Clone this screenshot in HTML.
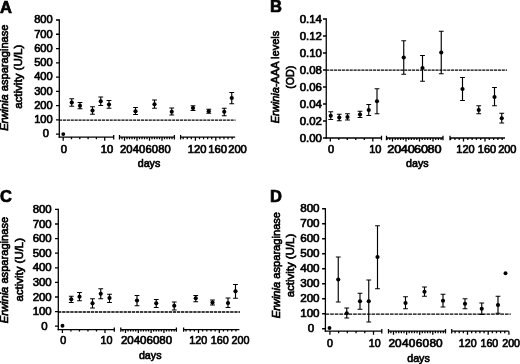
<!DOCTYPE html>
<html><head><meta charset="utf-8"><title>Figure</title>
<style>
html,body{margin:0;padding:0;background:#fff;}
body{width:520px;height:364px;overflow:hidden;}
svg{display:block;will-change:transform;}
svg text{font-family:"Liberation Sans", sans-serif;fill:#000;}
</style></head>
<body>
<svg width="520" height="364" viewBox="0 0 520 364">
<rect width="520" height="364" fill="#fff"/>
<text transform="translate(-0.1 12.7)" font-size="16.5" text-anchor="start" stroke="#000" stroke-width="0.7" font-weight="bold">A</text>
<path d="M59.3 19.36V137.84" stroke="#000" stroke-width="1.28" fill="none"/>
<text transform="translate(52.7 23.39) scale(1.05 1)" font-size="10.6" text-anchor="end" stroke="#000" stroke-width="0.65">800</text>
<text transform="translate(52.7 37.65) scale(1.05 1)" font-size="10.6" text-anchor="end" stroke="#000" stroke-width="0.65">700</text>
<text transform="translate(52.7 51.91) scale(1.05 1)" font-size="10.6" text-anchor="end" stroke="#000" stroke-width="0.65">600</text>
<text transform="translate(52.7 66.17) scale(1.05 1)" font-size="10.6" text-anchor="end" stroke="#000" stroke-width="0.65">500</text>
<text transform="translate(52.7 80.43) scale(1.05 1)" font-size="10.6" text-anchor="end" stroke="#000" stroke-width="0.65">400</text>
<text transform="translate(52.7 94.69) scale(1.05 1)" font-size="10.6" text-anchor="end" stroke="#000" stroke-width="0.65">300</text>
<text transform="translate(52.7 108.95) scale(1.05 1)" font-size="10.6" text-anchor="end" stroke="#000" stroke-width="0.65">200</text>
<text transform="translate(52.7 123.21) scale(1.05 1)" font-size="10.6" text-anchor="end" stroke="#000" stroke-width="0.65">100</text>
<text transform="translate(49 137.47) scale(1.05 1)" font-size="10.6" text-anchor="end" stroke="#000" stroke-width="0.65">0</text>
<path d="M56 20H59.3M56 34.26H59.3M56 48.52H59.3M56 62.78H59.3M56 77.04H59.3M56 91.3H59.3M56 105.56H59.3M56 119.82H59.3M56 134.08H59.3" stroke="#000" stroke-width="1.28" fill="none"/>
<text transform="translate(8.2 77.65) rotate(-90) scale(1.04 1)" font-size="10.7" text-anchor="middle" stroke="#000" stroke-width="0.65"><tspan font-style="italic">Erwinia</tspan> asparaginase</text>
<text transform="translate(22.3 76.8) rotate(-90) scale(1.08 1)" font-size="10.7" text-anchor="middle" stroke="#000" stroke-width="0.65">activity (U/L)</text>
<path d="M58.66 137.2H113.7M119.5 137.2H174.4M180.6 137.2H235.2M113.7 135V139.4M119.5 135V139.4M174.4 135V139.4M180.6 135V139.4M63.2 137.2V140.7M71.5 137.2V139.2M79.8 137.2V139.2M88.1 137.2V139.2M96.4 137.2V139.2M104.7 137.2V140.7M122 137.2V139.2M124.5 137.2V140.7M127 137.2V139.2M129.5 137.2V139.2M132 137.2V139.2M134.5 137.2V139.2M137 137.2V140.7M139.5 137.2V139.2M142 137.2V139.2M144.5 137.2V139.2M147 137.2V139.2M149.5 137.2V140.7M152 137.2V139.2M154.5 137.2V139.2M157 137.2V139.2M159.5 137.2V139.2M162 137.2V140.7M164.5 137.2V139.2M167 137.2V139.2M169.5 137.2V139.2M172 137.2V139.2M183.16 137.2V139.2M187.24 137.2V139.2M191.32 137.2V139.2M195.4 137.2V140.7M199.48 137.2V139.2M203.56 137.2V139.2M207.64 137.2V139.2M211.72 137.2V139.2M215.8 137.2V140.7M219.88 137.2V139.2M223.96 137.2V139.2M228.04 137.2V139.2M232.12 137.2V139.2" stroke="#000" stroke-width="1.28" fill="none"/>
<text transform="translate(63.8 152.5) scale(1.06 1)" font-size="10.6" text-anchor="middle" stroke="#000" stroke-width="0.65">0</text>
<text transform="translate(107 152.5) scale(1.06 1)" font-size="10.6" text-anchor="middle" stroke="#000" stroke-width="0.65">10</text>
<text transform="translate(126.3 152.5) scale(1.06 1)" font-size="10.6" text-anchor="middle" stroke="#000" stroke-width="0.65">20</text>
<text transform="translate(139 152.5) scale(1.06 1)" font-size="10.6" text-anchor="middle" stroke="#000" stroke-width="0.65">40</text>
<text transform="translate(151.7 152.5) scale(1.06 1)" font-size="10.6" text-anchor="middle" stroke="#000" stroke-width="0.65">60</text>
<text transform="translate(164.4 152.5) scale(1.06 1)" font-size="10.6" text-anchor="middle" stroke="#000" stroke-width="0.65">80</text>
<text transform="translate(197.2 152.5) scale(1.06 1)" font-size="10.6" text-anchor="middle" stroke="#000" stroke-width="0.65">120</text>
<text transform="translate(217.6 152.5) scale(1.06 1)" font-size="10.6" text-anchor="middle" stroke="#000" stroke-width="0.65">160</text>
<text transform="translate(237.5 152.5) scale(1.06 1)" font-size="10.6" text-anchor="middle" stroke="#000" stroke-width="0.65">200</text>
<text transform="translate(149 166.8)" font-size="10.7" text-anchor="middle" stroke="#000" stroke-width="0.65">days</text>
<path d="M59 120.2H235.5" stroke="#000" stroke-width="1.3" stroke-dasharray="3.1 0.8" fill="none"/>
<circle cx="63.25" cy="134.1" r="1.95"/>
<circle cx="71.75" cy="102.5" r="2.1"/>
<circle cx="80" cy="105.75" r="2.1"/>
<circle cx="92.5" cy="110.5" r="2.1"/>
<circle cx="100.75" cy="101.25" r="2.1"/>
<circle cx="109" cy="104.5" r="2.1"/>
<circle cx="135.5" cy="111.25" r="2.1"/>
<circle cx="154.5" cy="104.25" r="2.1"/>
<circle cx="171.75" cy="111.75" r="2.1"/>
<circle cx="193" cy="108" r="2.1"/>
<circle cx="208.75" cy="111.25" r="2.1"/>
<circle cx="224.25" cy="111.75" r="2.1"/>
<circle cx="231.75" cy="98" r="2.1"/>
<path d="M71.75 98.75V106.25M69.35 98.75H74.15M69.35 106.25H74.15M80 102.5V108.75M77.6 102.5H82.4M77.6 108.75H82.4M92.5 106.75V114.25M90.1 106.75H94.9M90.1 114.25H94.9M100.75 97V105.5M98.35 97H103.15M98.35 105.5H103.15M109 100.5V108.25M106.6 100.5H111.4M106.6 108.25H111.4M135.5 107.5V114.5M133.1 107.5H137.9M133.1 114.5H137.9M154.5 100V108.25M152.1 100H156.9M152.1 108.25H156.9M171.75 108V115M169.35 108H174.15M169.35 115H174.15M193 105.75V110.5M190.6 105.75H195.4M190.6 110.5H195.4M208.75 109.25V113.25M206.35 109.25H211.15M206.35 113.25H211.15M224.25 108.25V115.75M221.85 108.25H226.65M221.85 115.75H226.65M231.75 92.5V103.75M229.35 92.5H234.15M229.35 103.75H234.15" stroke="#000" stroke-width="1.15" fill="none"/>
<text transform="translate(270 11.9)" font-size="16.5" text-anchor="start" stroke="#000" stroke-width="0.7" font-weight="bold">B</text>
<path d="M326.25 18.36V138.64" stroke="#000" stroke-width="1.28" fill="none"/>
<text transform="translate(321.95 22.89) scale(1.08 1)" font-size="10.6" text-anchor="end" stroke="#000" stroke-width="0.65">0.14</text>
<text transform="translate(321.95 39.89) scale(1.08 1)" font-size="10.6" text-anchor="end" stroke="#000" stroke-width="0.65">0.12</text>
<text transform="translate(321.95 56.89) scale(1.08 1)" font-size="10.6" text-anchor="end" stroke="#000" stroke-width="0.65">0.10</text>
<text transform="translate(321.95 73.89) scale(1.08 1)" font-size="10.6" text-anchor="end" stroke="#000" stroke-width="0.65">0.08</text>
<text transform="translate(321.95 90.89) scale(1.08 1)" font-size="10.6" text-anchor="end" stroke="#000" stroke-width="0.65">0.06</text>
<text transform="translate(321.95 107.89) scale(1.08 1)" font-size="10.6" text-anchor="end" stroke="#000" stroke-width="0.65">0.04</text>
<text transform="translate(321.95 124.89) scale(1.08 1)" font-size="10.6" text-anchor="end" stroke="#000" stroke-width="0.65">0.02</text>
<text transform="translate(321.95 141.89) scale(1.08 1)" font-size="10.6" text-anchor="end" stroke="#000" stroke-width="0.65">0.00</text>
<path d="M322.95 19H326.25M322.95 36H326.25M322.95 53H326.25M322.95 70H326.25M322.95 87H326.25M322.95 104H326.25M322.95 121H326.25M322.95 138H326.25" stroke="#000" stroke-width="1.28" fill="none"/>
<text transform="translate(278.8 77) rotate(-90) scale(1.03 1)" font-size="10.7" text-anchor="middle" stroke="#000" stroke-width="0.65"><tspan font-style="italic">Erwinia</tspan>-AAA levels</text>
<text transform="translate(293.5 77.2) rotate(-90)" font-size="10.7" text-anchor="middle" stroke="#000" stroke-width="0.65">(OD)</text>
<path d="M325.61 138H381.5M386.5 138H443M450 138H505M381.5 135.8V140.2M386.5 135.8V140.2M443 135.8V140.2M450 135.8V140.2M330.3 138V141.5M338.8 138V140M347.3 138V140M355.8 138V140M364.3 138V140M372.8 138V141.5M387.1 138V140M389.8 138V140M392.5 138V141.5M395.2 138V140M397.9 138V140M400.6 138V140M403.3 138V140M406 138V141.5M408.7 138V140M411.4 138V140M414.1 138V140M416.8 138V140M419.5 138V141.5M422.2 138V140M424.9 138V140M427.6 138V140M430.3 138V140M433 138V141.5M435.7 138V140M438.4 138V140M441.1 138V140M450.6 138V140M454.9 138V140M459.2 138V140M463.5 138V141.5M467.8 138V140M472.1 138V140M476.4 138V140M480.7 138V140M485 138V141.5M489.3 138V140M493.6 138V140M497.9 138V140M502.2 138V140" stroke="#000" stroke-width="1.28" fill="none"/>
<text transform="translate(331 153.1) scale(1.04 1)" font-size="10.6" text-anchor="middle" stroke="#000" stroke-width="0.65">0</text>
<text transform="translate(375.3 153.1) scale(1.04 1)" font-size="10.6" text-anchor="middle" stroke="#000" stroke-width="0.65">10</text>
<text transform="translate(394.3 153.1) scale(1.2 1)" font-size="10.6" text-anchor="middle" stroke="#000" stroke-width="0.65">20</text>
<text transform="translate(407.7 153.1) scale(1.2 1)" font-size="10.6" text-anchor="middle" stroke="#000" stroke-width="0.65">40</text>
<text transform="translate(421.1 153.1) scale(1.2 1)" font-size="10.6" text-anchor="middle" stroke="#000" stroke-width="0.65">60</text>
<text transform="translate(434.5 153.1) scale(1.2 1)" font-size="10.6" text-anchor="middle" stroke="#000" stroke-width="0.65">80</text>
<text transform="translate(465.5 153.1) scale(1.04 1)" font-size="10.6" text-anchor="middle" stroke="#000" stroke-width="0.65">120</text>
<text transform="translate(487 153.1) scale(1.04 1)" font-size="10.6" text-anchor="middle" stroke="#000" stroke-width="0.65">160</text>
<text transform="translate(507.3 153.1) scale(1.04 1)" font-size="10.6" text-anchor="middle" stroke="#000" stroke-width="0.65">200</text>
<text transform="translate(417.3 167.1)" font-size="10.7" text-anchor="middle" stroke="#000" stroke-width="0.65">days</text>
<path d="M326.25 70.1H507" stroke="#000" stroke-width="1.1" stroke-dasharray="3.1 0.8" fill="none"/>
<circle cx="330.75" cy="115.75" r="2.1"/>
<circle cx="339.25" cy="117.5" r="2.1"/>
<circle cx="347.5" cy="117" r="2.1"/>
<circle cx="360" cy="114.5" r="2.1"/>
<circle cx="368.75" cy="110" r="2.1"/>
<circle cx="377" cy="101.25" r="2.1"/>
<circle cx="403.75" cy="57.5" r="2.1"/>
<circle cx="422.5" cy="68" r="2.1"/>
<circle cx="441.25" cy="52.5" r="2.1"/>
<circle cx="462.5" cy="89" r="2.1"/>
<circle cx="478.75" cy="110" r="2.1"/>
<circle cx="494.5" cy="97" r="2.1"/>
<circle cx="501.75" cy="118.25" r="2.1"/>
<path d="M330.75 111.75V119.5M328.35 111.75H333.15M328.35 119.5H333.15M339.25 114.25V120.75M336.85 114.25H341.65M336.85 120.75H341.65M347.5 113.75V120M345.1 113.75H349.9M345.1 120H349.9M360 111.25V117.5M357.6 111.25H362.4M357.6 117.5H362.4M368.75 104.5V115.5M366.35 104.5H371.15M366.35 115.5H371.15M377 88.75V113.75M374.6 88.75H379.4M374.6 113.75H379.4M403.75 40.75V74.25M401.35 40.75H406.15M401.35 74.25H406.15M422.5 55.5V81.25M420.1 55.5H424.9M420.1 81.25H424.9M441.25 31.25V73.75M438.85 31.25H443.65M438.85 73.75H443.65M462.5 77.5V100.5M460.1 77.5H464.9M460.1 100.5H464.9M478.75 105.75V113.75M476.35 105.75H481.15M476.35 113.75H481.15M494.5 87.5V105.75M492.1 87.5H496.9M492.1 105.75H496.9M501.75 113.25V123M499.35 113.25H504.15M499.35 123H504.15" stroke="#000" stroke-width="1.15" fill="none"/>
<text transform="translate(0.1 202.1)" font-size="16.5" text-anchor="start" stroke="#000" stroke-width="0.7" font-weight="bold">C</text>
<path d="M58.3 208.76V330.24" stroke="#000" stroke-width="1.28" fill="none"/>
<text transform="translate(51.7 212.9) scale(1.05 1)" font-size="10.9" text-anchor="end" stroke="#000" stroke-width="0.65">800</text>
<text transform="translate(51.7 227.5) scale(1.05 1)" font-size="10.9" text-anchor="end" stroke="#000" stroke-width="0.65">700</text>
<text transform="translate(51.7 242.1) scale(1.05 1)" font-size="10.9" text-anchor="end" stroke="#000" stroke-width="0.65">600</text>
<text transform="translate(51.7 256.7) scale(1.05 1)" font-size="10.9" text-anchor="end" stroke="#000" stroke-width="0.65">500</text>
<text transform="translate(51.7 271.3) scale(1.05 1)" font-size="10.9" text-anchor="end" stroke="#000" stroke-width="0.65">400</text>
<text transform="translate(51.7 285.9) scale(1.05 1)" font-size="10.9" text-anchor="end" stroke="#000" stroke-width="0.65">300</text>
<text transform="translate(51.7 300.5) scale(1.05 1)" font-size="10.9" text-anchor="end" stroke="#000" stroke-width="0.65">200</text>
<text transform="translate(51.7 315.1) scale(1.05 1)" font-size="10.9" text-anchor="end" stroke="#000" stroke-width="0.65">100</text>
<text transform="translate(47.7 329.7) scale(1.05 1)" font-size="10.9" text-anchor="end" stroke="#000" stroke-width="0.65">0</text>
<path d="M55 209.4H58.3M55 224H58.3M55 238.6H58.3M55 253.2H58.3M55 267.8H58.3M55 282.4H58.3M55 297H58.3M55 311.6H58.3M55 326.2H58.3" stroke="#000" stroke-width="1.28" fill="none"/>
<text transform="translate(8 270) rotate(-90) scale(1.04 1)" font-size="10.7" text-anchor="middle" stroke="#000" stroke-width="0.65"><tspan font-style="italic">Erwinia</tspan> asparaginase</text>
<text transform="translate(22.5 269.75) rotate(-90) scale(1.07 1)" font-size="10.7" text-anchor="middle" stroke="#000" stroke-width="0.65">activity (U/L)</text>
<path d="M57.66 329.6H114.3M120.8 329.6H176.4M183.6 329.6H239.4M114.3 327.4V331.8M120.8 327.4V331.8M176.4 327.4V331.8M183.6 327.4V331.8M62.4 329.6V333.1M70.92 329.6V331.6M79.44 329.6V331.6M87.96 329.6V331.6M96.48 329.6V331.6M105 329.6V333.1M122.94 329.6V331.6M125.5 329.6V333.1M128.06 329.6V331.6M130.62 329.6V331.6M133.18 329.6V331.6M135.74 329.6V331.6M138.3 329.6V333.1M140.86 329.6V331.6M143.42 329.6V331.6M145.98 329.6V331.6M148.54 329.6V331.6M151.1 329.6V333.1M153.66 329.6V331.6M156.22 329.6V331.6M158.78 329.6V331.6M161.34 329.6V331.6M163.9 329.6V333.1M166.46 329.6V331.6M169.02 329.6V331.6M171.58 329.6V331.6M174.14 329.6V331.6M186.02 329.6V331.6M190.18 329.6V331.6M194.34 329.6V331.6M198.5 329.6V333.1M202.66 329.6V331.6M206.82 329.6V331.6M210.98 329.6V331.6M215.14 329.6V331.6M219.3 329.6V333.1M223.46 329.6V331.6M227.62 329.6V331.6M231.78 329.6V331.6M235.94 329.6V331.6" stroke="#000" stroke-width="1.28" fill="none"/>
<text transform="translate(63.2 343.8) scale(0.99 1)" font-size="10.9" text-anchor="middle" stroke="#000" stroke-width="0.65">0</text>
<text transform="translate(106.6 343.8) scale(0.99 1)" font-size="10.9" text-anchor="middle" stroke="#000" stroke-width="0.65">10</text>
<text transform="translate(127.3 343.8) scale(1.06 1)" font-size="10.9" text-anchor="middle" stroke="#000" stroke-width="0.65">20</text>
<text transform="translate(140.1 343.8) scale(1.06 1)" font-size="10.9" text-anchor="middle" stroke="#000" stroke-width="0.65">40</text>
<text transform="translate(152.9 343.8) scale(1.06 1)" font-size="10.9" text-anchor="middle" stroke="#000" stroke-width="0.65">60</text>
<text transform="translate(165.7 343.8) scale(1.06 1)" font-size="10.9" text-anchor="middle" stroke="#000" stroke-width="0.65">80</text>
<text transform="translate(198.3 343.8) scale(0.99 1)" font-size="10.9" text-anchor="middle" stroke="#000" stroke-width="0.65">120</text>
<text transform="translate(219.8 343.8) scale(0.99 1)" font-size="10.9" text-anchor="middle" stroke="#000" stroke-width="0.65">160</text>
<text transform="translate(240.6 343.8) scale(0.99 1)" font-size="10.9" text-anchor="middle" stroke="#000" stroke-width="0.65">200</text>
<text transform="translate(150.2 358.7)" font-size="10.7" text-anchor="middle" stroke="#000" stroke-width="0.65">days</text>
<path d="M58 312H240" stroke="#000" stroke-width="1.3" stroke-dasharray="3.3 0.8" fill="none"/>
<circle cx="62.5" cy="325.75" r="1.95"/>
<circle cx="71.25" cy="299.25" r="2.1"/>
<circle cx="79.5" cy="296.75" r="2.1"/>
<circle cx="92.5" cy="303.25" r="2.1"/>
<circle cx="100.75" cy="293.75" r="2.1"/>
<circle cx="109.5" cy="298" r="2.1"/>
<circle cx="137" cy="300.5" r="2.1"/>
<circle cx="156.25" cy="303.25" r="2.1"/>
<circle cx="174.25" cy="305.75" r="2.1"/>
<circle cx="195.75" cy="298.25" r="2.1"/>
<circle cx="212.5" cy="302.5" r="2.1"/>
<circle cx="228" cy="303" r="2.1"/>
<circle cx="235.5" cy="291.25" r="2.1"/>
<path d="M71.25 296.25V302.5M68.85 296.25H73.65M68.85 302.5H73.65M79.5 292.5V300.75M77.1 292.5H81.9M77.1 300.75H81.9M92.5 298.75V308M90.1 298.75H94.9M90.1 308H94.9M100.75 288.75V298.75M98.35 288.75H103.15M98.35 298.75H103.15M109.5 294.25V302.5M107.1 294.25H111.9M107.1 302.5H111.9M137 295.5V305.75M134.6 295.5H139.4M134.6 305.75H139.4M156.25 299.5V307.5M153.85 299.5H158.65M153.85 307.5H158.65M174.25 302V310M171.85 302H176.65M171.85 310H176.65M195.75 295.5V301.75M193.35 295.5H198.15M193.35 301.75H198.15M212.5 300V305M210.1 300H214.9M210.1 305H214.9M228 298V307.5M225.6 298H230.4M225.6 307.5H230.4M235.5 284.5V298.25M233.1 284.5H237.9M233.1 298.25H237.9" stroke="#000" stroke-width="1.15" fill="none"/>
<text transform="translate(270 201.6)" font-size="16.5" text-anchor="start" stroke="#000" stroke-width="0.7" font-weight="bold">D</text>
<path d="M325.4 208.11V331.84" stroke="#000" stroke-width="1.28" fill="none"/>
<text transform="translate(319.6 212.32) scale(1.05 1)" font-size="11.1" text-anchor="end" stroke="#000" stroke-width="0.65">800</text>
<text transform="translate(319.6 227.32) scale(1.05 1)" font-size="11.1" text-anchor="end" stroke="#000" stroke-width="0.65">700</text>
<text transform="translate(319.6 242.32) scale(1.05 1)" font-size="11.1" text-anchor="end" stroke="#000" stroke-width="0.65">600</text>
<text transform="translate(319.6 257.32) scale(1.05 1)" font-size="11.1" text-anchor="end" stroke="#000" stroke-width="0.65">500</text>
<text transform="translate(319.6 272.32) scale(1.05 1)" font-size="11.1" text-anchor="end" stroke="#000" stroke-width="0.65">400</text>
<text transform="translate(319.6 287.32) scale(1.05 1)" font-size="11.1" text-anchor="end" stroke="#000" stroke-width="0.65">300</text>
<text transform="translate(319.6 302.32) scale(1.05 1)" font-size="11.1" text-anchor="end" stroke="#000" stroke-width="0.65">200</text>
<text transform="translate(319.6 317.32) scale(1.05 1)" font-size="11.1" text-anchor="end" stroke="#000" stroke-width="0.65">100</text>
<text transform="translate(314.2 332.32) scale(1.05 1)" font-size="11.1" text-anchor="end" stroke="#000" stroke-width="0.65">0</text>
<path d="M322.1 208.75H325.4M322.1 223.75H325.4M322.1 238.75H325.4M322.1 253.75H325.4M322.1 268.75H325.4M322.1 283.75H325.4M322.1 298.75H325.4M322.1 313.75H325.4M322.1 328.75H325.4" stroke="#000" stroke-width="1.28" fill="none"/>
<text transform="translate(279.9 265.1) rotate(-90) scale(1.04 1)" font-size="10.7" text-anchor="middle" stroke="#000" stroke-width="0.65"><tspan font-style="italic">Erwinia</tspan> asparaginase</text>
<text transform="translate(294 265.5) rotate(-90) scale(1.07 1)" font-size="10.7" text-anchor="middle" stroke="#000" stroke-width="0.65">activity (U/L)</text>
<path d="M324.76 331.2H381.8M388.5 331.2H445.5M451.7 331.2H508.8M381.8 329V333.4M388.5 329V333.4M445.5 329V333.4M451.7 329V333.4M329.9 331.2V334.7M338.62 331.2V333.2M347.34 331.2V333.2M356.06 331.2V333.2M364.78 331.2V333.2M373.5 331.2V334.7M390.88 331.2V333.2M393.5 331.2V334.7M396.12 331.2V333.2M398.74 331.2V333.2M401.36 331.2V333.2M403.98 331.2V333.2M406.6 331.2V334.7M409.22 331.2V333.2M411.84 331.2V333.2M414.46 331.2V333.2M417.08 331.2V333.2M419.7 331.2V334.7M422.32 331.2V333.2M424.94 331.2V333.2M427.56 331.2V333.2M430.18 331.2V333.2M432.8 331.2V334.7M435.42 331.2V333.2M438.04 331.2V333.2M440.66 331.2V333.2M443.28 331.2V333.2M455.08 331.2V333.2M459.22 331.2V333.2M463.36 331.2V333.2M467.5 331.2V334.7M471.64 331.2V333.2M475.78 331.2V333.2M479.92 331.2V333.2M484.06 331.2V333.2M488.2 331.2V334.7M492.34 331.2V333.2M496.48 331.2V333.2M500.62 331.2V333.2M504.76 331.2V333.2M508.9 331.2V334.7" stroke="#000" stroke-width="1.28" fill="none"/>
<text transform="translate(330 346.5) scale(0.99 1)" font-size="10.8" text-anchor="middle" stroke="#000" stroke-width="0.65">0</text>
<text transform="translate(374.8 346.5) scale(0.99 1)" font-size="10.8" text-anchor="middle" stroke="#000" stroke-width="0.65">10</text>
<text transform="translate(395 346.5) scale(1.1 1)" font-size="10.8" text-anchor="middle" stroke="#000" stroke-width="0.65">20</text>
<text transform="translate(408.7 346.5) scale(1.1 1)" font-size="10.8" text-anchor="middle" stroke="#000" stroke-width="0.65">40</text>
<text transform="translate(422.4 346.5) scale(1.1 1)" font-size="10.8" text-anchor="middle" stroke="#000" stroke-width="0.65">60</text>
<text transform="translate(436.1 346.5) scale(1.1 1)" font-size="10.8" text-anchor="middle" stroke="#000" stroke-width="0.65">80</text>
<text transform="translate(467.7 346.5) scale(0.99 1)" font-size="10.8" text-anchor="middle" stroke="#000" stroke-width="0.65">120</text>
<text transform="translate(489.4 346.5) scale(0.99 1)" font-size="10.8" text-anchor="middle" stroke="#000" stroke-width="0.65">160</text>
<text transform="translate(511.1 346.5) scale(0.99 1)" font-size="10.8" text-anchor="middle" stroke="#000" stroke-width="0.65">200</text>
<text transform="translate(418.5 361.8)" font-size="10.7" text-anchor="middle" stroke="#000" stroke-width="0.65">days</text>
<path d="M325.5 314.1H510.75" stroke="#000" stroke-width="1.3" stroke-dasharray="3.7 0.9" fill="none"/>
<circle cx="329.5" cy="328" r="1.95"/>
<circle cx="338.25" cy="279.5" r="2.1"/>
<circle cx="346.75" cy="313.25" r="2.1"/>
<circle cx="360" cy="301.25" r="2.1"/>
<circle cx="368.75" cy="301.25" r="2.1"/>
<circle cx="377.5" cy="257" r="2.1"/>
<circle cx="405.5" cy="303" r="2.1"/>
<circle cx="424.5" cy="291.75" r="2.1"/>
<circle cx="443" cy="300.75" r="2.1"/>
<circle cx="465" cy="303.75" r="2.1"/>
<circle cx="481.75" cy="308.75" r="2.1"/>
<circle cx="498" cy="305" r="2.1"/>
<circle cx="505.5" cy="273.25" r="1.95"/>
<path d="M338.25 257V302M335.85 257H340.65M335.85 302H340.65M346.75 308V318M344.35 308H349.15M344.35 318H349.15M360 293.25V309.25M357.6 293.25H362.4M357.6 309.25H362.4M368.75 280V322M366.35 280H371.15M366.35 322H371.15M377.5 225.75V288.75M375.1 225.75H379.9M375.1 288.75H379.9M405.5 296.75V308.75M403.1 296.75H407.9M403.1 308.75H407.9M424.5 287V296.25M422.1 287H426.9M422.1 296.25H426.9M443 294.25V307M440.6 294.25H445.4M440.6 307H445.4M465 298.75V308.75M462.6 298.75H467.4M462.6 308.75H467.4M481.75 303V314.5M479.35 303H484.15M479.35 314.5H484.15M498 296.25V313.25M495.6 296.25H500.4M495.6 313.25H500.4" stroke="#000" stroke-width="1.15" fill="none"/>
</svg>
</body></html>
